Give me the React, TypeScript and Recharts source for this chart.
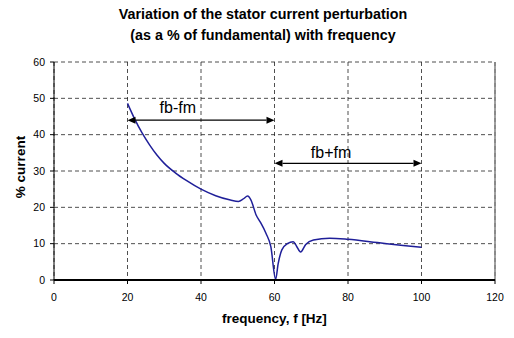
import { LineChart, Line, XAxis, YAxis, CartesianGrid, ReferenceLine, ReferenceDot, Label } from 'recharts';

const FONT = '"Liberation Sans", Arial, sans-serif';

// curve
const freq = [20, 22, 24, 26, 28, 30, 33, 36, 40, 44, 48, 50.2, 51.5, 52.7, 53.6, 55, 56.1, 57.7, 59, 60.3, 61, 62, 63.5, 65.1, 66, 67.1, 68.5, 70.6, 75, 80, 88, 95, 100];
const current = [48.6, 44.2, 40.4, 37.2, 34.4, 32.1, 29.5, 27.4, 25, 23.2, 22, 21.6, 22.3, 23.1, 22.0, 17.9, 16.0, 12.8, 9.2, 0.2, 4.5, 8.3, 10, 10.5, 9.3, 7.7, 9.8, 11, 11.5, 11.2, 10.3, 9.5, 9];

const xTicks = [0, 20, 40, 60, 80, 100, 120];
const yTicks = [0, 10, 20, 30, 40, 50, 60];

// double-headed arrows
const arrowFrom = [20, 60];
const arrowTo = [60, 100];
const arrowY = [44, 32.1];
const arrowLabels = ['fb-fm', 'fb+fm'];
const labelX = [33.7, 75.4];
const labelY = [46, 33.6];

const data = freq.map((f, i) => ({ f, current: current[i] }));

const ArrowShape = (props: any) => {
  const { x1, y1, x2, y2 } = props;
  const h = 8;
  const w = 3.5;
  return (
    <g>
      <line x1={x1 + h} y1={y1} x2={x2 - h} y2={y2} stroke="#000" strokeWidth={1.2} />
      <polygon points={`${x1},${y1} ${x1 + h},${y1 - w} ${x1 + h},${y1 + w}`} fill="#000" />
      <polygon points={`${x2},${y2} ${x2 - h},${y2 - w} ${x2 - h},${y2 + w}`} fill="#000" />
    </g>
  );
};

const textShape = (text: string) => (props: any) => (
  <text x={props.cx} y={props.cy} textAnchor="middle" fontFamily={FONT} fontSize={16} fill="#000">
    {text}
  </text>
);

const YTitle = (props: any) => {
  const vb = props.viewBox;
  const cx = 25;
  const cy = vb.y + vb.height / 2 - 4;
  return (
    <text x={cx} y={cy} transform={`rotate(-90, ${cx}, ${cy})`} textAnchor="middle" fontFamily={FONT} fontSize={13.5} fontWeight="bold" fill="#000">
      % current
    </text>
  );
};

export default function App() {
  return (
    <div style={{ position: 'absolute', left: 0, top: 0, width: 514, height: 338, background: '#fff' }}>
      <div
        style={{
          position: 'absolute',
          left: 0,
          top: 4,
          width: 526,
          textAlign: 'center',
          fontFamily: FONT,
          fontWeight: 'bold',
          fontSize: 14.3,
          lineHeight: '21px',
          color: '#000',
        }}
      >
        Variation of the stator current perturbation
        <br />
        (as a % of fundamental) with frequency
      </div>
      <LineChart width={514} height={338} data={data} margin={{ top: 62, right: 19, left: 0, bottom: 0 }}>
        <CartesianGrid stroke="#222" strokeDasharray="4 3" strokeWidth={0.8} />
        <XAxis
          dataKey="f"
          type="number"
          domain={[0, 120]}
          ticks={xTicks}
          height={58}
          tickSize={4}
          tickMargin={10}
          axisLine={{ stroke: '#000', strokeWidth: 2 }}
          tickLine={{ stroke: '#000' }}
          tick={{ fontSize: 10.5, fill: '#000', fontFamily: FONT }}
        >
          <Label value="frequency, f [Hz]" position="insideBottom" offset={15} style={{ fontFamily: FONT, fontSize: 13.5, fontWeight: 'bold', fill: '#000' }} />
        </XAxis>
        <YAxis
          type="number"
          domain={[0, 60]}
          ticks={yTicks}
          width={54}
          tickSize={4}
          tickMargin={5}
          axisLine={{ stroke: '#000' }}
          tickLine={{ stroke: '#000' }}
          tick={{ fontSize: 10.5, fill: '#000', fontFamily: FONT }}
        >
          <Label content={YTitle} />
        </YAxis>
        <ReferenceLine x={120} stroke="#808080" strokeWidth={1.5} />
        <Line
          type="monotone"
          dataKey="current"
          stroke="#1f1f99"
          strokeWidth={1.5}
          dot={false}
          isAnimationActive={false}
        />
        {arrowLabels.map((lab, i) => (
          <ReferenceLine
            key={`arrow-${lab}`}
            segment={[
              { x: arrowFrom[i], y: arrowY[i] },
              { x: arrowTo[i], y: arrowY[i] },
            ]}
            shape={ArrowShape}
          />
        ))}
        {arrowLabels.map((lab, i) => (
          <ReferenceDot key={`lab-${lab}`} x={labelX[i]} y={labelY[i]} r={0} shape={textShape(lab)} />
        ))}
      </LineChart>
    </div>
  );
}
